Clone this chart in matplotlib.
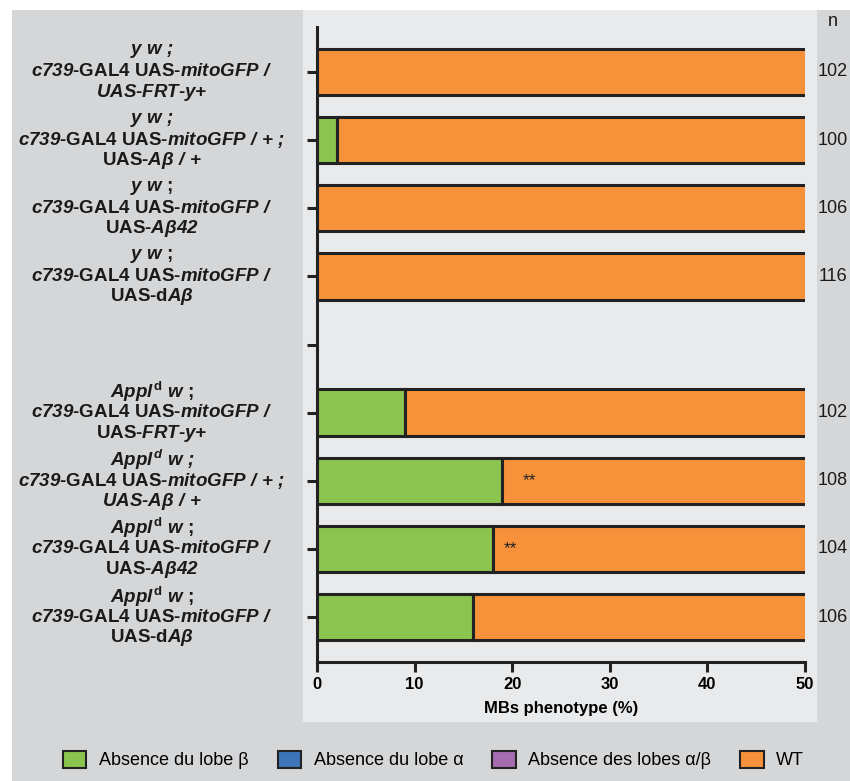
import numpy as np
import matplotlib
matplotlib.use("Agg")
import matplotlib.pyplot as plt
import matplotlib.transforms as mtransforms
from matplotlib.patches import Patch, Rectangle

plt.rcParams["font.family"] = "Liberation Sans"
# math segments are used for the bold-italic parts of the genotypes
plt.rcParams["mathtext.fontset"] = "custom"
plt.rcParams["mathtext.rm"] = "Liberation Sans:bold:italic"
plt.rcParams["mathtext.it"] = "Liberation Sans:bold:italic"
plt.rcParams["mathtext.bf"] = "Liberation Sans:bold"

# rows from top; None = empty spacer row
genotypes = [
    [r"$y\ w\ ;$", r"$c739$-GAL4 UAS-$mitoGFP\ /$", r"$UAS$-$FRT$-$y{+}$"],
    [r"$y\ w\ ;$", r"$c739$-GAL4 UAS-$mitoGFP\ /\ {+}\ ;$", r"UAS-$Aβ\ /\ {+}$"],
    [r"$y\ w$ ;", r"$c739$-GAL4 UAS-$mitoGFP\ /$", r"UAS-$Aβ42$"],
    [r"$y\ w$ ;", r"$c739$-GAL4 UAS-$mitoGFP\ /$", r"UAS-d$Aβ$"],
    None,
    [r"$Appl^{\mathbf{d}}\ w$ ;", r"$c739$-GAL4 UAS-$mitoGFP\ /$", r"UAS-$FRT$-$y{+}$"],
    [r"$Appl^{d}\ w\ ;$", r"$c739$-GAL4 UAS-$mitoGFP\ /\ {+}\ ;$", r"$UAS$-$Aβ\ /\ {+}$"],
    [r"$Appl^{\mathbf{d}}\ w$ ;", r"$c739$-GAL4 UAS-$mitoGFP\ /$", r"UAS-$Aβ42$"],
    [r"$Appl^{\mathbf{d}}\ w$ ;", r"$c739$-GAL4 UAS-$mitoGFP\ /$", r"UAS-d$Aβ$"],
]
n_counts = [102, 100, 106, 116, None, 102, 108, 104, 106]

lobe_beta = [0, 2, 0, 0, None, 9, 19, 18, 16]
lobe_alpha = [0, 0, 0, 0, None, 0, 0, 0, 0]
lobes_ab = [0, 0, 0, 0, None, 0, 0, 0, 0]
wild_type = [100, 98, 100, 100, None, 91, 81, 82, 84]

stars = {6: ("**", 21.8), 7: ("**", 19.8)}

series_names = ["Absence du lobe β", "Absence du lobe α", "Absence des lobes α/β", "WT"]
series_colors = ["#8bc54f", "#3d74ba", "#a56db0", "#f7923a"]
series_data = [lobe_beta, lobe_alpha, lobes_ab, wild_type]

fig = plt.figure(figsize=(8.5, 7.81), dpi=100)
fig.patch.set_facecolor("white")

# background panels
fig.patches.append(Rectangle((12 / 850, 0), 1 - 12 / 850, 1 - 10 / 781,
                             transform=fig.transFigure, facecolor="#d5d6d8",
                             edgecolor="none", zorder=-10))
fig.patches.append(Rectangle((303 / 850, 1 - 722 / 781), (817 - 303) / 850, (722 - 10) / 781,
                             transform=fig.transFigure, facecolor="#e9eaec",
                             edgecolor="none", zorder=-9))

ax = fig.add_axes([317 / 850, 1 - 662 / 781, (805 - 317) / 850, (662 - 27) / 781])
ax.patch.set_visible(False)

rows = np.arange(len(genotypes))
for i in rows:
    if genotypes[i] is None:
        continue
    left = 0.0
    for vals, col in zip(series_data, series_colors):
        v = vals[i]
        if v:
            ax.barh(i, v, left=left, height=0.68, color=col,
                    edgecolor="#222222", linewidth=2.2, zorder=2)
            left += v

for i, (s, x) in stars.items():
    ax.text(x, i, s, ha="center", va="center", fontsize=12.5, color="#222222", zorder=3)

ax.set_xlim(0, 50)
ax.set_ylim(len(genotypes) - 1 + 0.66, -0.66)
ax.set_xticks([0, 10, 20, 30, 40, 50])
ax.set_yticks(rows)
ax.set_yticklabels([])
for sp in ["top", "right"]:
    ax.spines[sp].set_visible(False)
for sp in ["left", "bottom"]:
    ax.spines[sp].set_linewidth(2.2)
    ax.spines[sp].set_color("#222222")
ax.tick_params(axis="both", length=7, width=2.2, color="#222222")
ax.tick_params(axis="x", labelsize=12, pad=4)
for lab in ax.get_xticklabels():
    lab.set_fontweight("bold")
ax.set_xlabel("MBs phenotype (%)", fontsize=12, fontweight="bold", labelpad=6)

# genotype labels
blend = mtransforms.blended_transform_factory(fig.transFigure, ax.transData)
for i, lines in enumerate(genotypes):
    if lines is None:
        continue
    for k, line in enumerate(lines):
        tr = mtransforms.offset_copy(blend, fig=fig, x=0, y=(1 - k) * 20.5, units="dots")
        ax.text(152 / 850, i, line, transform=tr, ha="center", va="center",
                fontsize=13.5, fontweight="bold", color="#1a1a1a")

# n column
fig.text(833 / 850, 1 - 22 / 781, "n", ha="center", va="center", fontsize=13, color="#1a1a1a")
for i, n in enumerate(n_counts):
    if n is None:
        continue
    ax.text(833 / 850, i, str(n), transform=blend, ha="center", va="center",
            fontsize=13, color="#1a1a1a")

handles = [Patch(facecolor=c, edgecolor="#222222", linewidth=1.5) for c in series_colors]
fig.legend(handles, series_names, loc="center", bbox_to_anchor=(0.51, 1 - 760 / 781),
           ncol=4, frameon=False, fontsize=13, handlelength=1.3, handleheight=1.1,
           columnspacing=1.6, handletextpad=0.7)

fig.savefig("out.png", dpi=100, facecolor=fig.get_facecolor())
